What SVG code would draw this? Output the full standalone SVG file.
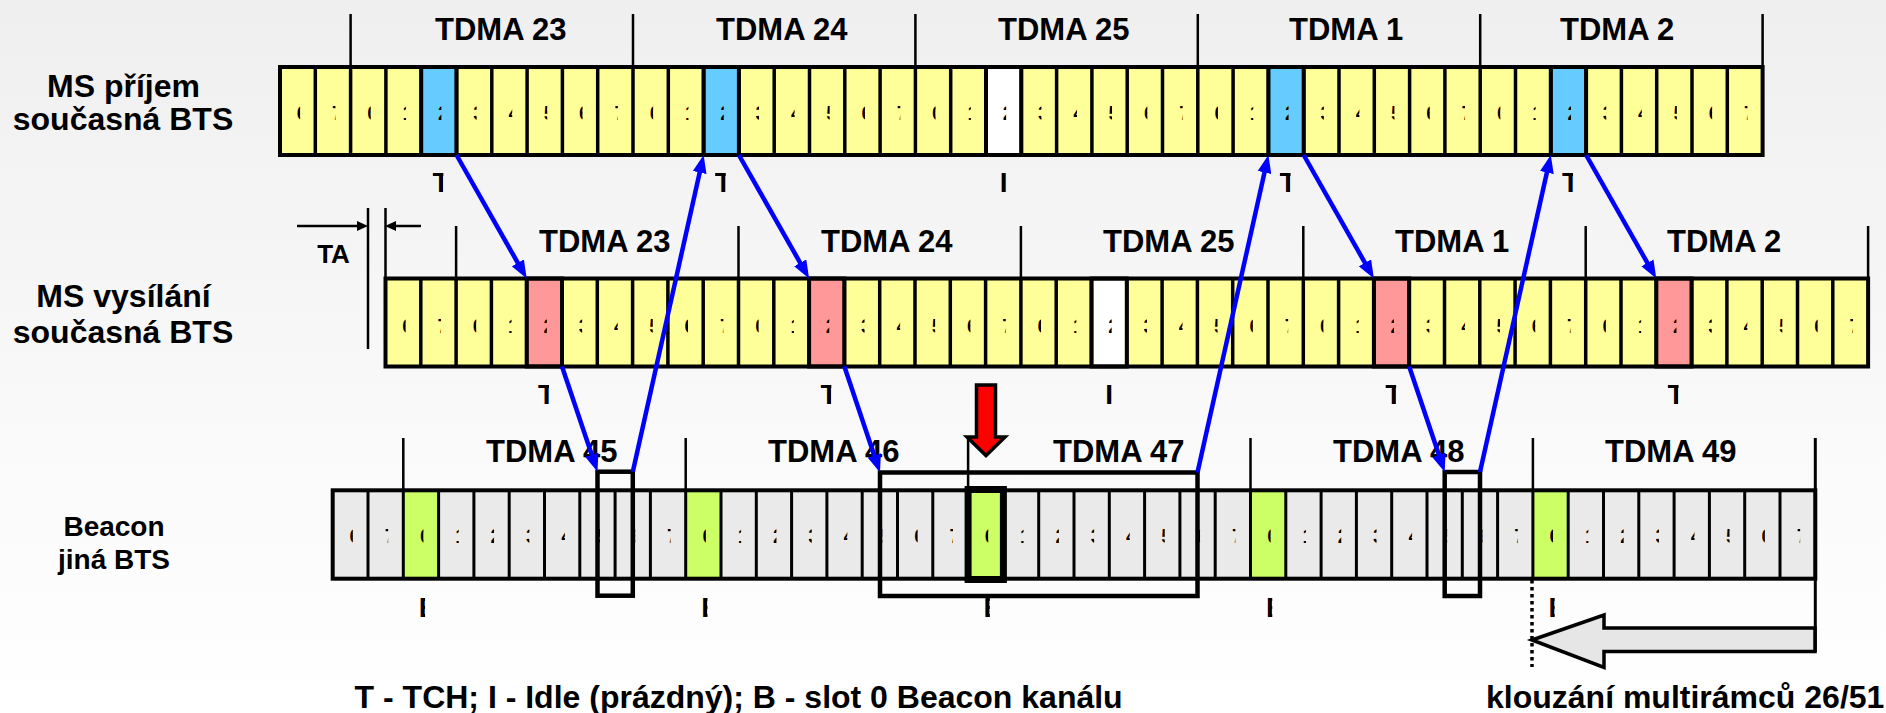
<svg xmlns="http://www.w3.org/2000/svg" width="1886" height="713" viewBox="0 0 1886 713">
<defs>
<linearGradient id="bg" x1="0" y1="0" x2="0" y2="1">
<stop offset="0" stop-color="#F0EFF0"/>
<stop offset="0.7" stop-color="#FBFBFB"/>
<stop offset="1" stop-color="#FFFFFF"/>
</linearGradient>
<clipPath id="cd" clipPathUnits="objectBoundingBox"><rect x="0" y="0" width="0.31" height="1"/></clipPath>
<clipPath id="ct" clipPathUnits="objectBoundingBox"><rect x="0" y="0" width="0.64" height="1"/></clipPath>
<clipPath id="cb" clipPathUnits="objectBoundingBox"><rect x="0" y="0" width="0.31" height="1"/></clipPath>
<marker id="ah" markerUnits="userSpaceOnUse" markerWidth="18" markerHeight="14" viewBox="0 0 18 14" refX="8" refY="7" orient="auto"><path d="M0,0 L18,7 L0,14 z" fill="#0000FF"/></marker>
<marker id="ak" markerUnits="userSpaceOnUse" markerWidth="11" markerHeight="10" viewBox="0 0 11 10" refX="2" refY="5" orient="auto"><path d="M0,0 L11,5 L0,10 z" fill="#000"/></marker>
</defs>
<style>
.lbl { font-family: "Liberation Sans", Arial, sans-serif; font-weight: bold; font-size: 31px; fill: #000; }
.big { font-size: 32px; }
.dg text { font-family: "Liberation Sans", Arial, sans-serif; font-weight: bold; font-size: 20px; fill: #000; clip-path: url(#cd); }
.sl { font-family: "Liberation Sans", Arial, sans-serif; font-weight: bold; font-size: 28px; fill: #000; }
.ta { font-family: "Liberation Sans", Arial, sans-serif; font-weight: bold; font-size: 26px; fill: #000; }
.st { clip-path: url(#ct); }
.sb { clip-path: url(#cb); }
.tk { stroke: #000; stroke-width: 2.5; fill: none; }
.sep { stroke: #000; stroke-width: 3.5; fill: none; }
.sep3 { stroke: #000; stroke-width: 3; fill: none; }
.frame { fill: none; stroke: #000; stroke-width: 4; }
.hl { stroke: #000; stroke-width: 4; }
.yel { fill: #FFFF99; }
.gry { fill: #EAEAEA; }
.blu { fill: #66CCFF; }
.red { fill: #FF9999; }
.wht { fill: #FFFFFF; }
.grn { fill: #CCFF66; }
.bx { fill: none; stroke: #000; stroke-width: 4.5; }
.conn { stroke: #0000FF; stroke-width: 4.5; fill: none; marker-end: url(#ah); }
</style>
<rect x="0" y="0" width="1886" height="713" fill="url(#bg)"/>

<g id="label-ms-rx" class="lbl big" text-anchor="middle">
<text x="123.5" y="97">MS příjem</text>
<text x="123" y="130">současná BTS</text>
</g>
<g id="label-ms-tx" class="lbl big" text-anchor="middle">
<text x="123.5" y="307">MS vysílání</text>
<text x="123" y="343">současná BTS</text>
</g>
<g id="label-beacon" class="lbl" text-anchor="middle" style="font-size:28px">
<text x="114" y="536">Beacon</text>
<text x="114" y="569">jiná BTS</text>
</g>

<g id="row-ms-rx">
<rect class="yel" x="280" y="67" width="1482.6" height="88"/>
<rect class="blu" x="421.2" y="67" width="35.3" height="88"/>
<rect class="blu" x="703.6" y="67" width="35.3" height="88"/>
<rect class="wht" x="986" y="67" width="35.3" height="88"/>
<rect class="blu" x="1268.4" y="67" width="35.3" height="88"/>
<rect class="blu" x="1550.8" y="67" width="35.3" height="88"/>
<path class="sep" d="M315.3 67V155M350.6 67V155M385.9 67V155M421.2 67V155M456.5 67V155M491.8 67V155M527.1 67V155M562.4 67V155M597.7 67V155M633 67V155M668.3 67V155M703.6 67V155M738.9 67V155M774.2 67V155M809.5 67V155M844.8 67V155M880.1 67V155M915.4 67V155M950.7 67V155M986 67V155M1021.3 67V155M1056.6 67V155M1091.9 67V155M1127.2 67V155M1162.5 67V155M1197.8 67V155M1233.1 67V155M1268.4 67V155M1303.7 67V155M1339 67V155M1374.3 67V155M1409.6 67V155M1444.9 67V155M1480.2 67V155M1515.5 67V155M1550.8 67V155M1586.1 67V155M1621.4 67V155M1656.7 67V155M1692 67V155M1727.3 67V155"/>
<rect class="frame" x="280" y="67" width="1482.6" height="88"/>
<g fill="none" class="hl">
<rect x="421.2" y="67" width="35.3" height="88"/>
<rect x="703.6" y="67" width="35.3" height="88"/>
<rect x="986" y="67" width="35.3" height="88"/>
<rect x="1268.4" y="67" width="35.3" height="88"/>
<rect x="1550.8" y="67" width="35.3" height="88"/>
</g>
<g class="dg">
<text x="296.7" y="120">6</text><text x="332" y="120">7</text><text x="367.3" y="120">0</text><text x="402.6" y="120">1</text><text x="437.9" y="120">2</text><text x="473.2" y="120">3</text><text x="508.5" y="120">4</text><text x="543.8" y="120">5</text>
<text x="579.1" y="120">6</text><text x="614.4" y="120">7</text><text x="649.7" y="120">0</text><text x="685" y="120">1</text><text x="720.3" y="120">2</text><text x="755.6" y="120">3</text><text x="790.9" y="120">4</text><text x="826.2" y="120">5</text>
<text x="861.5" y="120">6</text><text x="896.8" y="120">7</text><text x="932.1" y="120">0</text><text x="967.4" y="120">1</text><text x="1002.7" y="120">2</text><text x="1038" y="120">3</text><text x="1073.3" y="120">4</text><text x="1108.6" y="120">5</text>
<text x="1143.9" y="120">6</text><text x="1179.2" y="120">7</text><text x="1214.5" y="120">0</text><text x="1249.8" y="120">1</text><text x="1285.1" y="120">2</text><text x="1320.4" y="120">3</text><text x="1355.7" y="120">4</text><text x="1391" y="120">5</text>
<text x="1426.3" y="120">6</text><text x="1461.6" y="120">7</text><text x="1496.9" y="120">0</text><text x="1532.2" y="120">1</text><text x="1567.5" y="120">2</text><text x="1602.8" y="120">3</text><text x="1638.1" y="120">4</text><text x="1673.4" y="120">5</text>
<text x="1708.7" y="120">6</text><text x="1744" y="120">7</text>
</g>
<path class="tk" d="M350.6 14V67M633 14V67M915.4 14V67M1197.8 14V67M1480.2 14V67M1762.6 14V67"/>
<g class="lbl">
<text x="435" y="40">TDMA 23</text>
<text x="716" y="40">TDMA 24</text>
<text x="998" y="40">TDMA 25</text>
<text x="1289" y="40">TDMA 1</text>
<text x="1560" y="40">TDMA 2</text>
</g>
<g class="sl">
<text class="st" x="432.4" y="192">T</text>
<text class="st" x="714.8" y="192">T</text>
<text x="1003.7" y="192" text-anchor="middle">I</text>
<text class="st" x="1279.6" y="192">T</text>
<text class="st" x="1562" y="192">T</text>
</g>
</g>

<g id="row-ms-tx">
<rect class="yel" x="385.5" y="278.5" width="1482.6" height="88"/>
<rect class="red" x="526.7" y="278.5" width="35.3" height="88"/>
<rect class="red" x="809.1" y="278.5" width="35.3" height="88"/>
<rect class="wht" x="1091.5" y="278.5" width="35.3" height="88"/>
<rect class="red" x="1373.9" y="278.5" width="35.3" height="88"/>
<rect class="red" x="1656.3" y="278.5" width="35.3" height="88"/>
<path class="sep" d="M420.8 278.5V366.5M456.1 278.5V366.5M491.4 278.5V366.5M526.7 278.5V366.5M562 278.5V366.5M597.3 278.5V366.5M632.6 278.5V366.5M667.9 278.5V366.5M703.2 278.5V366.5M738.5 278.5V366.5M773.8 278.5V366.5M809.1 278.5V366.5M844.4 278.5V366.5M879.7 278.5V366.5M915 278.5V366.5M950.3 278.5V366.5M985.6 278.5V366.5M1020.9 278.5V366.5M1056.2 278.5V366.5M1091.5 278.5V366.5M1126.8 278.5V366.5M1162.1 278.5V366.5M1197.4 278.5V366.5M1232.7 278.5V366.5M1268 278.5V366.5M1303.3 278.5V366.5M1338.6 278.5V366.5M1373.9 278.5V366.5M1409.2 278.5V366.5M1444.5 278.5V366.5M1479.8 278.5V366.5M1515.1 278.5V366.5M1550.4 278.5V366.5M1585.7 278.5V366.5M1621 278.5V366.5M1656.3 278.5V366.5M1691.6 278.5V366.5M1726.9 278.5V366.5M1762.2 278.5V366.5M1797.5 278.5V366.5M1832.8 278.5V366.5"/>
<rect class="frame" x="385.5" y="278.5" width="1482.6" height="88"/>
<g fill="none" class="hl">
<rect x="526.7" y="278.5" width="35.3" height="88"/>
<rect x="809.1" y="278.5" width="35.3" height="88"/>
<rect x="1091.5" y="278.5" width="35.3" height="88"/>
<rect x="1373.9" y="278.5" width="35.3" height="88"/>
<rect x="1656.3" y="278.5" width="35.3" height="88"/>
</g>
<g class="dg">
<text x="402.2" y="333">6</text><text x="437.5" y="333">7</text><text x="472.8" y="333">0</text><text x="508.1" y="333">1</text><text x="543.4" y="333">2</text><text x="578.7" y="333">3</text><text x="614" y="333">4</text><text x="649.3" y="333">5</text>
<text x="684.6" y="333">6</text><text x="719.9" y="333">7</text><text x="755.2" y="333">0</text><text x="790.5" y="333">1</text><text x="825.8" y="333">2</text><text x="861.1" y="333">3</text><text x="896.4" y="333">4</text><text x="931.7" y="333">5</text>
<text x="967" y="333">6</text><text x="1002.3" y="333">7</text><text x="1037.6" y="333">0</text><text x="1072.9" y="333">1</text><text x="1108.2" y="333">2</text><text x="1143.5" y="333">3</text><text x="1178.8" y="333">4</text><text x="1214.1" y="333">5</text>
<text x="1249.4" y="333">6</text><text x="1284.7" y="333">7</text><text x="1320" y="333">0</text><text x="1355.3" y="333">1</text><text x="1390.6" y="333">2</text><text x="1425.9" y="333">3</text><text x="1461.2" y="333">4</text><text x="1496.5" y="333">5</text>
<text x="1531.8" y="333">6</text><text x="1567.1" y="333">7</text><text x="1602.4" y="333">0</text><text x="1637.7" y="333">1</text><text x="1673" y="333">2</text><text x="1708.3" y="333">3</text><text x="1743.6" y="333">4</text><text x="1778.9" y="333">5</text>
<text x="1814.2" y="333">6</text><text x="1849.5" y="333">7</text>
</g>
<path class="tk" d="M456.1 226V278.5M738.5 226V278.5M1020.9 226V278.5M1303.3 226V278.5M1585.7 226V278.5M1868.1 226V278.5"/>
<g class="lbl">
<text x="539" y="252">TDMA 23</text>
<text x="821" y="252">TDMA 24</text>
<text x="1103" y="252">TDMA 25</text>
<text x="1395" y="252">TDMA 1</text>
<text x="1667" y="252">TDMA 2</text>
</g>
<g class="sl">
<text class="st" x="538" y="404">T</text>
<text class="st" x="820.4" y="404">T</text>
<text x="1109.2" y="404" text-anchor="middle">I</text>
<text class="st" x="1385.2" y="404">T</text>
<text class="st" x="1667.6" y="404">T</text>
</g>
</g>

<g id="timing-advance">
<path class="tk" d="M368 208V349M385.5 208V278.5"/>
<path class="tk" d="M297 226H359" marker-end="url(#ak)"/>
<path class="tk" d="M421 226H394" marker-end="url(#ak)"/>
<text class="ta" x="333.5" y="263" text-anchor="middle">TA</text>
</g>

<g id="row-beacon">
<rect class="gry" x="332.7" y="490.3" width="1482.6" height="88.4"/>
<rect class="grn" x="403.3" y="490.3" width="35.3" height="88.4"/>
<rect class="grn" x="685.7" y="490.3" width="35.3" height="88.4"/>
<rect class="grn" x="968.1" y="490.3" width="35.3" height="88.4"/>
<rect class="grn" x="1250.5" y="490.3" width="35.3" height="88.4"/>
<rect class="grn" x="1532.9" y="490.3" width="35.3" height="88.4"/>
<path class="sep3" d="M368 490.3V578.7M403.3 490.3V578.7M438.6 490.3V578.7M473.9 490.3V578.7M509.2 490.3V578.7M544.5 490.3V578.7M579.8 490.3V578.7M615.1 490.3V578.7M650.4 490.3V578.7M685.7 490.3V578.7M721 490.3V578.7M756.3 490.3V578.7M791.6 490.3V578.7M826.9 490.3V578.7M862.2 490.3V578.7M897.5 490.3V578.7M932.8 490.3V578.7M968.1 490.3V578.7M1003.4 490.3V578.7M1038.7 490.3V578.7M1074 490.3V578.7M1109.3 490.3V578.7M1144.6 490.3V578.7M1179.9 490.3V578.7M1215.2 490.3V578.7M1250.5 490.3V578.7M1285.8 490.3V578.7M1321.1 490.3V578.7M1356.4 490.3V578.7M1391.7 490.3V578.7M1427 490.3V578.7M1462.3 490.3V578.7M1497.6 490.3V578.7M1532.9 490.3V578.7M1568.2 490.3V578.7M1603.5 490.3V578.7M1638.8 490.3V578.7M1674.1 490.3V578.7M1709.4 490.3V578.7M1744.7 490.3V578.7M1780 490.3V578.7"/>
<rect class="frame" x="332.7" y="490.3" width="1482.6" height="88.4"/>
<g class="dg">
<text x="349.4" y="543">6</text><text x="384.7" y="543">7</text><text x="420" y="543">0</text><text x="455.3" y="543">1</text><text x="490.6" y="543">2</text><text x="525.9" y="543">3</text><text x="561.2" y="543">4</text><text x="596.5" y="543">5</text>
<text x="631.8" y="543">6</text><text x="667.1" y="543">7</text><text x="702.4" y="543">0</text><text x="737.7" y="543">1</text><text x="773" y="543">2</text><text x="808.3" y="543">3</text><text x="843.6" y="543">4</text><text x="878.9" y="543">5</text>
<text x="914.2" y="543">6</text><text x="949.5" y="543">7</text><text x="984.8" y="543">0</text><text x="1020.1" y="543">1</text><text x="1055.4" y="543">2</text><text x="1090.7" y="543">3</text><text x="1126" y="543">4</text><text x="1161.3" y="543">5</text>
<text x="1196.6" y="543">6</text><text x="1231.9" y="543">7</text><text x="1267.2" y="543">0</text><text x="1302.5" y="543">1</text><text x="1337.8" y="543">2</text><text x="1373.1" y="543">3</text><text x="1408.4" y="543">4</text><text x="1443.7" y="543">5</text>
<text x="1479" y="543">6</text><text x="1514.3" y="543">7</text><text x="1549.6" y="543">0</text><text x="1584.9" y="543">1</text><text x="1620.2" y="543">2</text><text x="1655.5" y="543">3</text><text x="1690.8" y="543">4</text><text x="1726.1" y="543">5</text>
<text x="1761.4" y="543">6</text><text x="1796.7" y="543">7</text>
</g>
<path class="tk" d="M403.3 438V490.3M685.7 438V490.3M968.1 438V490.3M1250.5 438V490.3M1532.9 438V490.3"/>
<path d="M1815.3 438V652" stroke="#000" stroke-width="3" fill="none"/>
<g class="lbl">
<text x="486" y="462">TDMA 45</text>
<text x="768" y="462">TDMA 46</text>
<text x="1053" y="462">TDMA 47</text>
<text x="1333" y="462">TDMA 48</text>
<text x="1605" y="462">TDMA 49</text>
</g>
<g class="sl">
<text class="sb" x="418.8" y="617">B</text>
<text class="sb" x="701.2" y="617">B</text>
<text class="sb" x="983.6" y="617">B</text>
<text class="sb" x="1266" y="617">B</text>
<text class="sb" x="1548.4" y="617">B</text>
</g>
</g>

<g id="window-1"><rect class="bx" x="597.5" y="471.7" width="35.3" height="124"/></g>
<g id="window-2"><rect class="bx" x="880" y="472.5" width="317.5" height="123.5"/></g>
<g id="window-3"><rect class="bx" x="1444.7" y="472" width="35.3" height="124"/></g>
<g id="beacon-target"><rect x="968.1" y="489.5" width="35.3" height="90" fill="none" stroke="#000" stroke-width="7"/></g>

<g id="connectors">
<path class="conn" d="M456.5 155L521.76 269.81"/>
<path class="conn" d="M562 366.5L594.3 462.2"/>
<path class="conn" d="M632.8 471.7L701.42 164.76"/>
<path class="conn" d="M738.9 155L804.16 269.81"/>
<path class="conn" d="M844.4 366.5L876.8 463"/>
<path class="conn" d="M1197.5 472.5L1266.22 164.76"/>
<path class="conn" d="M1303.7 155L1368.96 269.81"/>
<path class="conn" d="M1409.2 366.5L1441.5 462.5"/>
<path class="conn" d="M1480 472L1548.62 164.76"/>
<path class="conn" d="M1586.1 155L1651.36 269.81"/>
</g>

<g id="red-arrow">
<polygon points="976.5,385 995.5,385 995.5,437 1005,437 986,455.5 967,437 976.5,437" fill="#FF0000" stroke="#000" stroke-width="3.5"/>
</g>

<g id="slip-arrow">
<path d="M1532 580V667" stroke="#000" stroke-width="3.5" stroke-dasharray="3.5,3.5" fill="none"/>
<polygon points="1532,640 1604,615 1604,628 1815,628 1815,651.5 1604,651.5 1604,667.5" fill="#E6E6E6" stroke="#000" stroke-width="3.5"/>
</g>

<g id="legend" class="lbl big">
<text x="354.6" y="708">T - TCH; I - Idle (prázdný); B - slot 0 Beacon kanálu</text>
<text x="1486" y="708">klouzání multirámců 26/51</text>
</g>
</svg>
